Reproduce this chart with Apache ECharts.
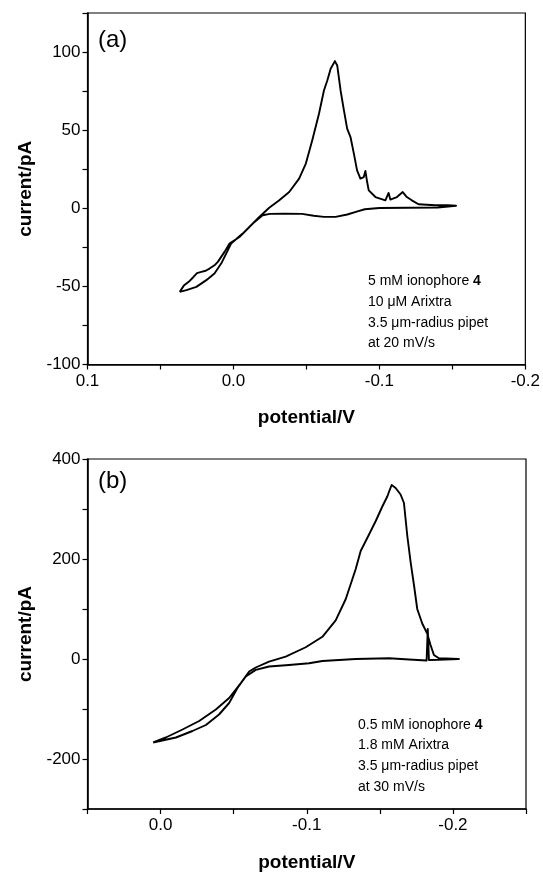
<!DOCTYPE html>
<html>
<head>
<meta charset="utf-8">
<script src="https://cdn.jsdelivr.net/npm/echarts@6/dist/echarts.min.js"></script>
<style>
  html, body { margin: 0; padding: 0; background: #fff; }
  #chart { width: 543px; height: 873px; }
</style>
</head>
<body>
<div id="chart"></div>
<script>
// panel (a): potential / V and current / pA, in scan order (closed loop)
const potentialA = [
  0.0368, 0.034, 0.030, 0.0277, 0.025, 0.022, 0.019, 0.0164, 0.013, 0.0107,
  0.0061, 0.0027, -0.0041, -0.0109, -0.0177, -0.0245, -0.0314, -0.0382, -0.045, -0.0496,
  -0.054, -0.0586, -0.062, -0.0643, -0.0666, -0.0695, -0.0711, -0.0734, -0.0757, -0.0779,
  -0.0802, -0.0825, -0.0847, -0.087, -0.0893, -0.0904, -0.0916, -0.0927, -0.0973, -0.1041,
  -0.1063, -0.1075, -0.112, -0.116, -0.1188, -0.1222, -0.1268, -0.1382, -0.147, -0.1525,
  -0.1525, -0.14, -0.12, -0.1, -0.09, -0.085, -0.078, -0.07, -0.062, -0.055,
  -0.047, -0.035, -0.025, -0.02, -0.0132, -0.0063, 0.0016, 0.005, 0.0084, 0.013,
  0.0186, 0.0254, 0.0322, 0.0368
];
const currentA = [
  -53.5, -49.5, -46.5, -44.3, -41.5, -40.7, -40, -38.6, -36.5, -34.3,
  -27.9, -22.6, -18.4, -12, -5.6, 0.3, 5.1, 10.4, 19, 28.6,
  43.5, 60.5, 75.4, 81.8, 89.3, 94.2, 91.4, 75.4, 62.7, 51,
  45.6, 35, 24.3, 19, 20, 23.9, 16.8, 11.5, 7.2, 5.1,
  9.8, 5.6, 7.2, 10.4, 7.2, 5.1, 2.6, 1.9, 1.9, 1.6,
  0.6, 0.5, 0.3, 0.2, -0.6, -2, -4, -5.5, -5.5, -4.8,
  -3.6, -3.4, -3.6, -4.5, -9.8, -16.2, -22.6, -29, -35.4, -41.8,
  -46, -50.3, -52.4, -53.5
];

// panel (b)
const potentialB = [
  0.0051, -0.0036, -0.015, -0.0264, -0.0378, -0.0469, -0.0549, -0.0606, -0.0651, -0.0742,
  -0.0856, -0.0993, -0.1107, -0.1198, -0.1267, -0.1335, -0.1369, -0.1426, -0.1472, -0.1517,
  -0.1551, -0.157, -0.1581, -0.1608, -0.1642, -0.1665, -0.1688, -0.1711, -0.1734, -0.1756,
  -0.179, -0.1824, -0.1847, -0.187, -0.1904, -0.2041,
  -0.2041, -0.19, -0.1836, -0.1828, -0.182, -0.1813, -0.17, -0.1563, -0.1335, -0.1107,
  -0.1016, -0.0879, -0.0742, -0.0651, -0.0583, -0.0526, -0.0469, -0.04, -0.031, -0.0218,
  -0.0105, 0.0051
];
const currentB = [
  -167, -157, -141, -124, -101, -78, -48, -25, -17, -5.2,
  4.8, 23.5, 44.4, 77.3, 120, 180, 216, 249, 276, 305,
  325, 340, 348, 342, 329, 312, 246, 193, 147, 100,
  71, 51, 28, 8, 1.4, 0,
  -1.5, -1.5, -2, 60, -3, -4, -1, 1.4, 0, -4,
  -8.5, -11.9, -15, -21.8, -35, -58, -88, -111, -132, -144,
  -157, -167
];

const notesA = ["5 mM ionophore {b|4}", "10 μM Arixtra", "3.5 μm-radius pipet", "at 20 mV/s"];
const notesB = ["0.5 mM ionophore {b|4}", "1.8 mM Arixtra", "3.5 μm-radius pipet", "at 30 mV/s"];

const FONT = "Liberation Sans";

function pairs(xs, ys) {
  return xs.map((x, i) => [x, ys[i]]);
}

function xAxisOpt(gridIndex, min, max) {
  return {
    type: "value",
    gridIndex: gridIndex,
    min: min,
    max: max,
    interval: 0.05,
    inverse: true,
    name: "potential/V",
    nameLocation: "middle",
    nameGap: 44,
    nameTextStyle: { fontFamily: FONT, fontSize: 19, fontWeight: "bold", color: "#000" },
    axisLine: { onZero: false, lineStyle: { color: "#000", width: 1.6 } },
    axisTick: { inside: false, length: 5, lineStyle: { color: "#000", width: 1.2 } },
    axisLabel: {
      margin: 8,
      fontFamily: FONT,
      fontSize: 17,
      color: "#000",
      showMinLabel: true,
      showMaxLabel: true,
      formatter: function (v) {
        return Math.abs(v * 10 - Math.round(v * 10)) < 1e-6 ? v.toFixed(1) : "";
      },
    },
    splitLine: { show: false },
  };
}

function yAxisOpt(gridIndex, min, max, interval, labelStep) {
  return {
    type: "value",
    gridIndex: gridIndex,
    min: min,
    max: max,
    interval: interval,
    name: "current/pA",
    nameLocation: "middle",
    nameGap: 49,
    nameTextStyle: { fontFamily: FONT, fontSize: 19, fontWeight: "bold", color: "#000" },
    axisLine: { onZero: false, lineStyle: { color: "#000", width: 1.6 } },
    axisTick: { inside: false, length: 5, lineStyle: { color: "#000", width: 1.2 } },
    axisLabel: {
      margin: 7,
      fontFamily: FONT,
      fontSize: 17,
      color: "#000",
      showMinLabel: true,
      showMaxLabel: true,
      formatter: function (v) {
        return Math.abs(v % labelStep) < 1e-6 ? String(v) : "";
      },
    },
    splitLine: { show: false },
  };
}

function noteLines(lines, x, y0, step) {
  return lines.map((t, i) => ({
    type: "text",
    x: x,
    y: y0 + i * step,
    style: {
      text: t,
      fontFamily: FONT,
      fontSize: 14,
      fill: "#000",
      verticalAlign: "middle",
      rich: { b: { fontFamily: FONT, fontSize: 14, fontWeight: "bold", fill: "#000" } },
    },
  }));
}

const chart = echarts.init(document.getElementById("chart"), null, { renderer: "canvas" });
chart.setOption({
  animation: false,
  backgroundColor: "#fff",
  grid: [
    { left: 87.5, top: 13, width: 438.5, height: 351.5, show: true, borderColor: "#000", borderWidth: 1.2 },
    { left: 87.5, top: 459, width: 438.5, height: 353, show: true, borderColor: "#000", borderWidth: 1.2 },
  ],
  xAxis: [xAxisOpt(0, -0.2, 0.1), xAxisOpt(1, -0.25, 0.05)],
  yAxis: [yAxisOpt(0, -100, 125, 25, 50), yAxisOpt(1, -300, 400, 100, 200)],
  series: [
    {
      type: "line",
      xAxisIndex: 0,
      yAxisIndex: 0,
      data: pairs(potentialA, currentA),
      showSymbol: false,
      lineStyle: { color: "#000", width: 1.9, join: "round" },
    },
    {
      type: "line",
      xAxisIndex: 1,
      yAxisIndex: 1,
      data: pairs(potentialB, currentB),
      showSymbol: false,
      lineStyle: { color: "#000", width: 1.9, join: "round" },
    },
  ],
  graphic: [
    { type: "text", x: 98, y: 40, style: { text: "(a)", fontFamily: FONT, fontSize: 24, fill: "#000", verticalAlign: "middle" } },
    { type: "text", x: 98, y: 481, style: { text: "(b)", fontFamily: FONT, fontSize: 24, fill: "#000", verticalAlign: "middle" } },
  ]
    .concat(noteLines(notesA, 368, 281.5, 20.6))
    .concat(noteLines(notesB, 358, 725, 20.6)),
});
</script>
</body>
</html>
